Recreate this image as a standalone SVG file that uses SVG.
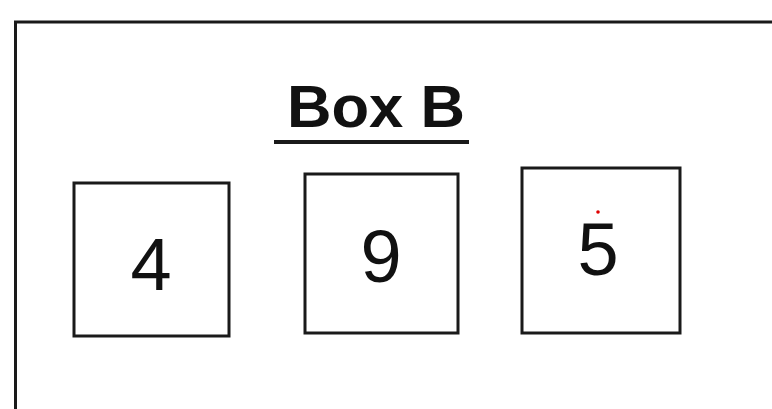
<svg xmlns="http://www.w3.org/2000/svg" width="772" height="409" viewBox="0 0 772 409">
<style>
.box{fill:#fff;stroke:#1a1a1a;stroke-width:3}
.num{font-family:"Liberation Sans",Arial,sans-serif;font-size:74px;fill:#111;text-anchor:middle}
.title{font-family:"Liberation Sans",Arial,sans-serif;font-weight:bold;font-size:60px;fill:#111;text-anchor:middle}
</style>
<rect width="772" height="409" fill="#fff"/>
<g id="outer">
<rect x="15.5" y="22" width="820" height="500" fill="none" stroke="#1a1a1a" stroke-width="3"/>
</g>
<g id="title">
<text class="title" x="376" y="127" textLength="178" lengthAdjust="spacingAndGlyphs">Box B</text>
<line x1="274" y1="142" x2="469" y2="142" stroke="#1a1a1a" stroke-width="4"/>
</g>
<g id="node4">
<rect class="box" x="74" y="183" width="155" height="153"/>
<text class="num" x="151" y="290">4</text>
</g>
<g id="node9">
<rect class="box" x="305" y="174" width="153" height="159"/>
<text class="num" x="381" y="282">9</text>
</g>
<g id="node5">
<rect class="box" x="522" y="168" width="158" height="165"/>
<text class="num" x="598" y="275">5</text>
<circle cx="598" cy="212" r="1.8" fill="#e00000"/>
</g>
<g id="connectors"/>
</svg>
